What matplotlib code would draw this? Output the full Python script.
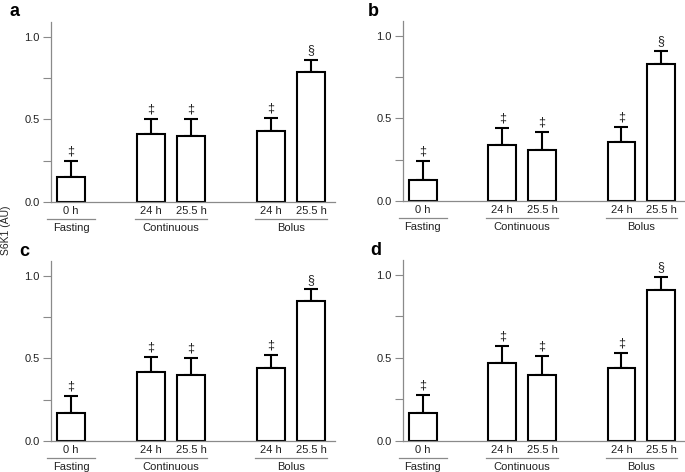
import matplotlib.pyplot as plt
from matplotlib import rcParams
from matplotlib.ticker import MultipleLocator
import matplotlib.transforms as mtransforms

rcParams['font.family'] = ['Liberation Sans', 'DejaVu Sans']

# bar layout: Fasting 0 h | Continuous 24 h, 25.5 h | Bolus 24 h, 25.5 h
positions = [0, 2, 3, 5, 6]
sub_labels = ["0 h", "24 h", "25.5 h", "24 h", "25.5 h"]
groups = ["Fasting", "Continuous", "Bolus"]
group_members = [[0], [1, 2], [3, 4]]
marks = ["\u2021", "\u2021", "\u2021", "\u2021", "\u00a7"]

panel_names = ["a", "b", "c", "d"]
means_a = [0.15, 0.41, 0.40, 0.43, 0.79]
errs_a = [0.10, 0.09, 0.10, 0.08, 0.07]
means_b = [0.13, 0.34, 0.31, 0.36, 0.83]
errs_b = [0.11, 0.10, 0.11, 0.09, 0.08]
means_c = [0.17, 0.42, 0.40, 0.44, 0.85]
errs_c = [0.10, 0.09, 0.10, 0.08, 0.07]
means_d = [0.17, 0.47, 0.40, 0.44, 0.91]
errs_d = [0.11, 0.10, 0.11, 0.09, 0.08]

W, H = 685, 472
fig = plt.figure(figsize=(W / 100, H / 100), dpi=100)


def px_axes(left, top, right, bottom):
    return fig.add_axes([left / W, 1 - bottom / H, (right - left) / W, (bottom - top) / H])


# pixel boxes of each panel (left, top, right, bottom)
boxes = [(51, 22, 335, 202), (403, 21, 685, 201), (51, 261, 335, 441), (403, 260, 685, 441)]
letter_pos = [(10, 12), (368, 12), (19, 251), (370, 250)]
all_means = [means_a, means_b, means_c, means_d]
all_errs = [errs_a, errs_b, errs_c, errs_d]

spine_col = "#8a8a8a"
txt_col = "#222222"

for name, box, lpos, means, errs in zip(panel_names, boxes, letter_pos, all_means, all_errs):
    ax = px_axes(*box)
    ax.bar(positions, means, width=0.7, color="white", edgecolor="black", linewidth=1.5, zorder=2)
    ax.errorbar(positions, means, yerr=[[0] * len(errs), errs], fmt="none", ecolor="black",
                elinewidth=1.5, capsize=5, capthick=1.5, zorder=1)
    for x, m, e, s in zip(positions, means, errs, marks):
        ax.annotate(s, (x, m + e), xytext=(0, 2.5), textcoords="offset points",
                    ha="center", va="bottom", fontsize=9, color=txt_col)

    ax.set_xlim(-0.5, 6.6)
    ax.set_ylim(0, 1.09)
    ax.yaxis.set_major_locator(MultipleLocator(0.5))
    ax.yaxis.set_minor_locator(MultipleLocator(0.25))
    ax.yaxis.set_major_formatter(plt.FormatStrFormatter("%.1f"))
    ax.tick_params(axis="y", which="both", direction="out", length=6, width=0.8,
                   color=spine_col, labelsize=8, labelcolor=txt_col, pad=2)
    ax.set_xticks(positions, sub_labels)
    ax.tick_params(axis="x", length=0, labelsize=8, labelcolor=txt_col, pad=3)
    for sp in ["top", "right"]:
        ax.spines[sp].set_visible(False)
    for sp in ["left", "bottom"]:
        ax.spines[sp].set_color(spine_col)
        ax.spines[sp].set_linewidth(0.9)

    trans = mtransforms.blended_transform_factory(ax.transData, ax.transAxes)
    for g, members in zip(groups, group_members):
        first = positions[members[0]]
        last = positions[members[-1]]
        pad = 0.6 if len(members) == 1 else 0.4
        ax.plot([first - pad, last + pad], [-0.095, -0.095], transform=trans,
                color=spine_col, lw=0.9, clip_on=False)
        ax.text((first + last) / 2, -0.115, g, transform=trans, ha="center", va="top",
                fontsize=8, color=txt_col)

    fig.text(lpos[0] / W, 1 - lpos[1] / H, name, fontsize=13, fontweight="bold",
             ha="left", va="center")

fig.text(6 / W, 1 - 230 / H, "S6K1 (AU)", rotation=90, ha="center", va="center",
         fontsize=7.5, color=txt_col)

fig.savefig("out.png", dpi=100)
